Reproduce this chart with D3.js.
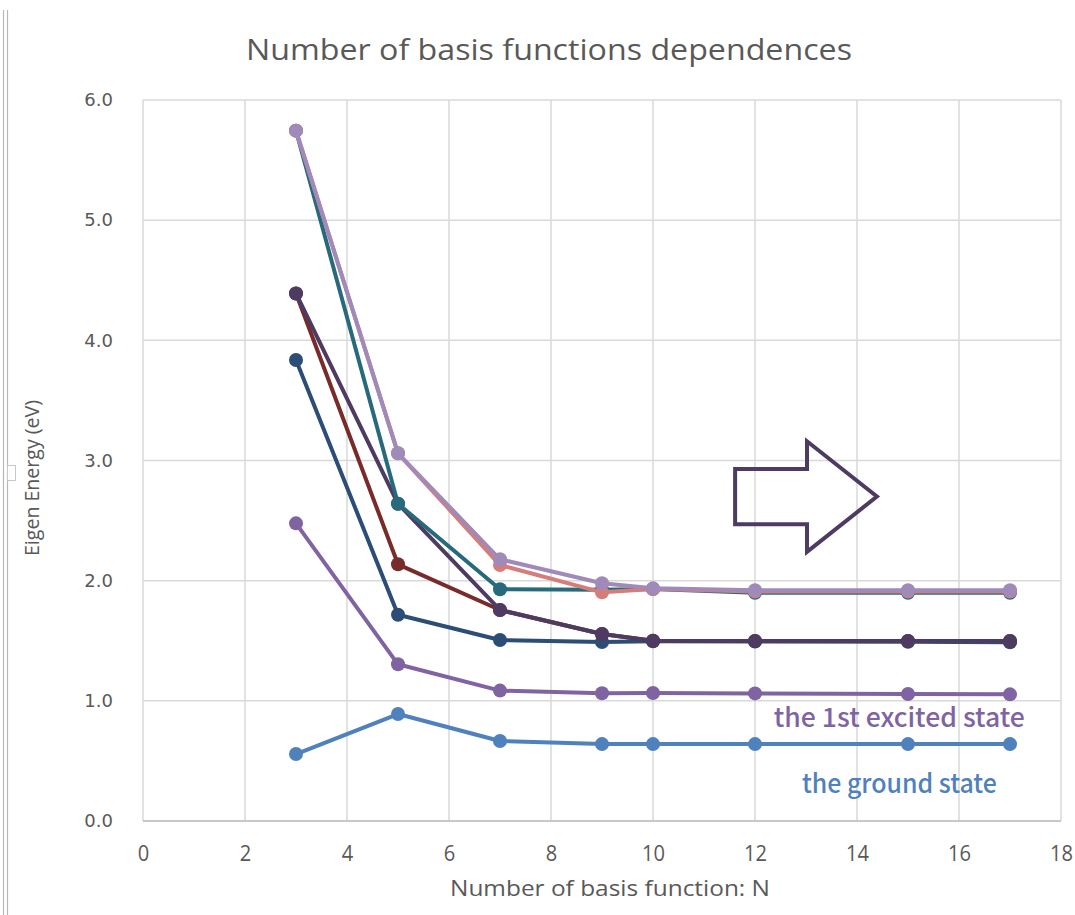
<!DOCTYPE html>
<html>
<head>
<meta charset="utf-8">
<script src="https://cdn.jsdelivr.net/npm/d3@7"></script>
<style>
html,body{margin:0;padding:0;background:#fff;}
svg{display:block;}
</style>
</head>
<body>
<svg id="chart" width="1075" height="915"></svg>
<script>
// ---- data ----
const nValues = [3, 5, 7, 9, 10, 12, 15, 17];
const groundState   = [0.557, 0.89, 0.666, 0.64, 0.64, 0.64, 0.64, 0.64];
const excited1      = [2.477, 1.304, 1.085, 1.063, 1.065, 1.062, 1.057, 1.054];
const seriesDarkBlue   = [3.836, 1.716, 1.506, 1.49, 1.495, 1.493, 1.492, 1.488];
const seriesDarkRed    = [4.39, 2.136, 1.756, 1.556, 1.50, 1.498, 1.498, 1.498];
const seriesDarkPurple = [4.39, 2.64, 1.756, 1.556, 1.50, 1.498, 1.498, 1.498];
const seriesTeal       = [5.745, 2.64, 1.928, 1.925, 1.93, 1.90, 1.90, 1.90];
const seriesSalmon     = [5.745, 3.06, 2.13, 1.903, 1.93, 1.91, 1.91, 1.91];
const seriesLightPurple= [5.745, 3.06, 2.178, 1.978, 1.936, 1.92, 1.92, 1.92];
const xTicks = [0, 2, 4, 6, 8, 10, 12, 14, 16, 18];
const yTicks = [0, 1, 2, 3, 4, 5, 6];
const titleText = "Number of basis functions dependences";
const xTitle = "Number of basis function: N";
const yTitle = "Eigen Energy (eV)";
const labelExcited = "the 1st excited state";
const labelGround = "the ground state";

const seriesList = [
  {values: groundState, color: "#4f81bd"},
  {values: excited1, color: "#8064a2"},
  {values: seriesDarkBlue, color: "#2c4d75"},
  {values: seriesDarkRed, color: "#772c2a"},
  {values: seriesDarkPurple, color: "#4d3b62"},
  {values: seriesTeal, color: "#276a7c"},
  {values: seriesSalmon, color: "#d47d7b"},
  {values: seriesLightPurple, color: "#a08ab9"}
];

// ---- layout ----
const svg = d3.select("#chart");
const x = d3.scaleLinear().domain([0, 18]).range([143, 1061]);
const y = d3.scaleLinear().domain([0, 6]).range([821, 100]);

// left page border lines
svg.append("line").attr("x1", 3.5).attr("x2", 3.5).attr("y1", 10).attr("y2", 915).attr("stroke", "#b8b8b8").attr("stroke-width", 1.2);
svg.append("line").attr("x1", 7.5).attr("x2", 7.5).attr("y1", 10).attr("y2", 915).attr("stroke", "#b8b8b8").attr("stroke-width", 1.2);
svg.append("rect").attr("x", 7.5).attr("y", 465.5).attr("width", 8).attr("height", 15).attr("fill", "#fff").attr("stroke", "#c8c8c8").attr("stroke-width", 1);

// title
svg.append("text").attr("x", 549).attr("y", 60).attr("text-anchor", "middle")
  .attr("font-family", "'Open Sans', sans-serif").attr("font-size", 30).attr("fill", "#595959")
  .attr("textLength", 606).attr("lengthAdjust", "spacingAndGlyphs")
  .text(titleText);

// grid
const grid = svg.append("g");
grid.selectAll("line.h").data(yTicks).join("line")
  .attr("x1", x(0)).attr("x2", x(18)).attr("y1", d => y(d)).attr("y2", d => y(d))
  .attr("stroke", "#d9d9d9").attr("stroke-width", 1.5);
grid.selectAll("line.v").data(xTicks).join("line")
  .attr("x1", d => x(d)).attr("x2", d => x(d)).attr("y1", y(0)).attr("y2", y(6))
  .attr("stroke", "#d9d9d9").attr("stroke-width", 1.5);
svg.append("line").attr("x1", x(0)).attr("x2", x(18)).attr("y1", y(0)).attr("y2", y(0))
  .attr("stroke", "#bfbfbf").attr("stroke-width", 1.5);

// axes labels via d3 axes
const yAxis = d3.axisLeft(y).tickValues(yTicks).tickFormat(d3.format(".1f")).tickSize(0).tickPadding(30);
const gy = svg.append("g").attr("transform", `translate(${x(0)},0)`).call(yAxis);
gy.select(".domain").remove();
gy.selectAll("text").attr("font-family", "'DejaVu Sans', sans-serif").attr("font-size", 18).attr("fill", "#595959");

const xAxis = d3.axisBottom(x).tickValues(xTicks).tickFormat(d3.format("d")).tickSize(0).tickPadding(24);
const gx = svg.append("g").attr("transform", `translate(0,${y(0)})`).call(xAxis);
gx.select(".domain").remove();
gx.selectAll("text").attr("font-family", "'Open Sans', sans-serif").attr("font-size", 22).attr("fill", "#595959")
  .attr("textLength", d => String(d).length * 11.5).attr("lengthAdjust", "spacingAndGlyphs");

// axis titles
svg.append("text").attr("x", 610).attr("y", 896).attr("text-anchor", "middle")
  .attr("font-family", "'Open Sans', sans-serif").attr("font-size", 22).attr("fill", "#595959")
  .attr("textLength", 320).attr("lengthAdjust", "spacingAndGlyphs")
  .text(xTitle);
svg.append("text").attr("transform", "translate(39,478) rotate(-90)").attr("text-anchor", "middle")
  .attr("font-family", "'Open Sans', sans-serif").attr("font-size", 20).attr("fill", "#595959")
  .attr("textLength", 156).attr("lengthAdjust", "spacingAndGlyphs")
  .text(yTitle);

// series
const line = d3.line().x((d, i) => x(nValues[i])).y(d => y(d));
const plot = svg.append("g");
seriesList.forEach(s => {
  const g = plot.append("g");
  g.append("path").datum(s.values).attr("d", line).attr("fill", "none")
    .attr("stroke", s.color).attr("stroke-width", 4).attr("stroke-linejoin", "round");
  g.selectAll("circle").data(s.values).join("circle")
    .attr("cx", (d, i) => x(nValues[i])).attr("cy", d => y(d)).attr("r", 7)
    .attr("fill", s.color);
});

// arrow annotation (data units)
const arrowPts = [[11.61, 2.93], [13.02, 2.93], [13.02, 3.16], [14.39, 2.70], [13.02, 2.24], [13.02, 2.47], [11.61, 2.47]];
svg.append("polygon").attr("points", arrowPts.map(p => [x(p[0]), y(p[1])].join(",")).join(" "))
  .attr("fill", "none").attr("stroke", "#4d3b62").attr("stroke-width", 4).attr("stroke-linejoin", "miter");

// state labels
svg.append("text").attr("x", x(12.37)).attr("y", y(0.78))
  .attr("font-family", "'Noto Sans CJK KR', 'Noto Sans', sans-serif").attr("font-weight", 500).attr("font-size", 26).attr("fill", "#8064a2")
  .attr("textLength", 251).attr("lengthAdjust", "spacingAndGlyphs")
  .text(labelExcited);
svg.append("text").attr("x", x(12.92)).attr("y", y(0.23))
  .attr("font-family", "'Noto Sans CJK KR', 'Noto Sans', sans-serif").attr("font-weight", 500).attr("font-size", 26).attr("fill", "#4f81bd")
  .attr("textLength", 195).attr("lengthAdjust", "spacingAndGlyphs")
  .text(labelGround);
</script>
</body>
</html>
